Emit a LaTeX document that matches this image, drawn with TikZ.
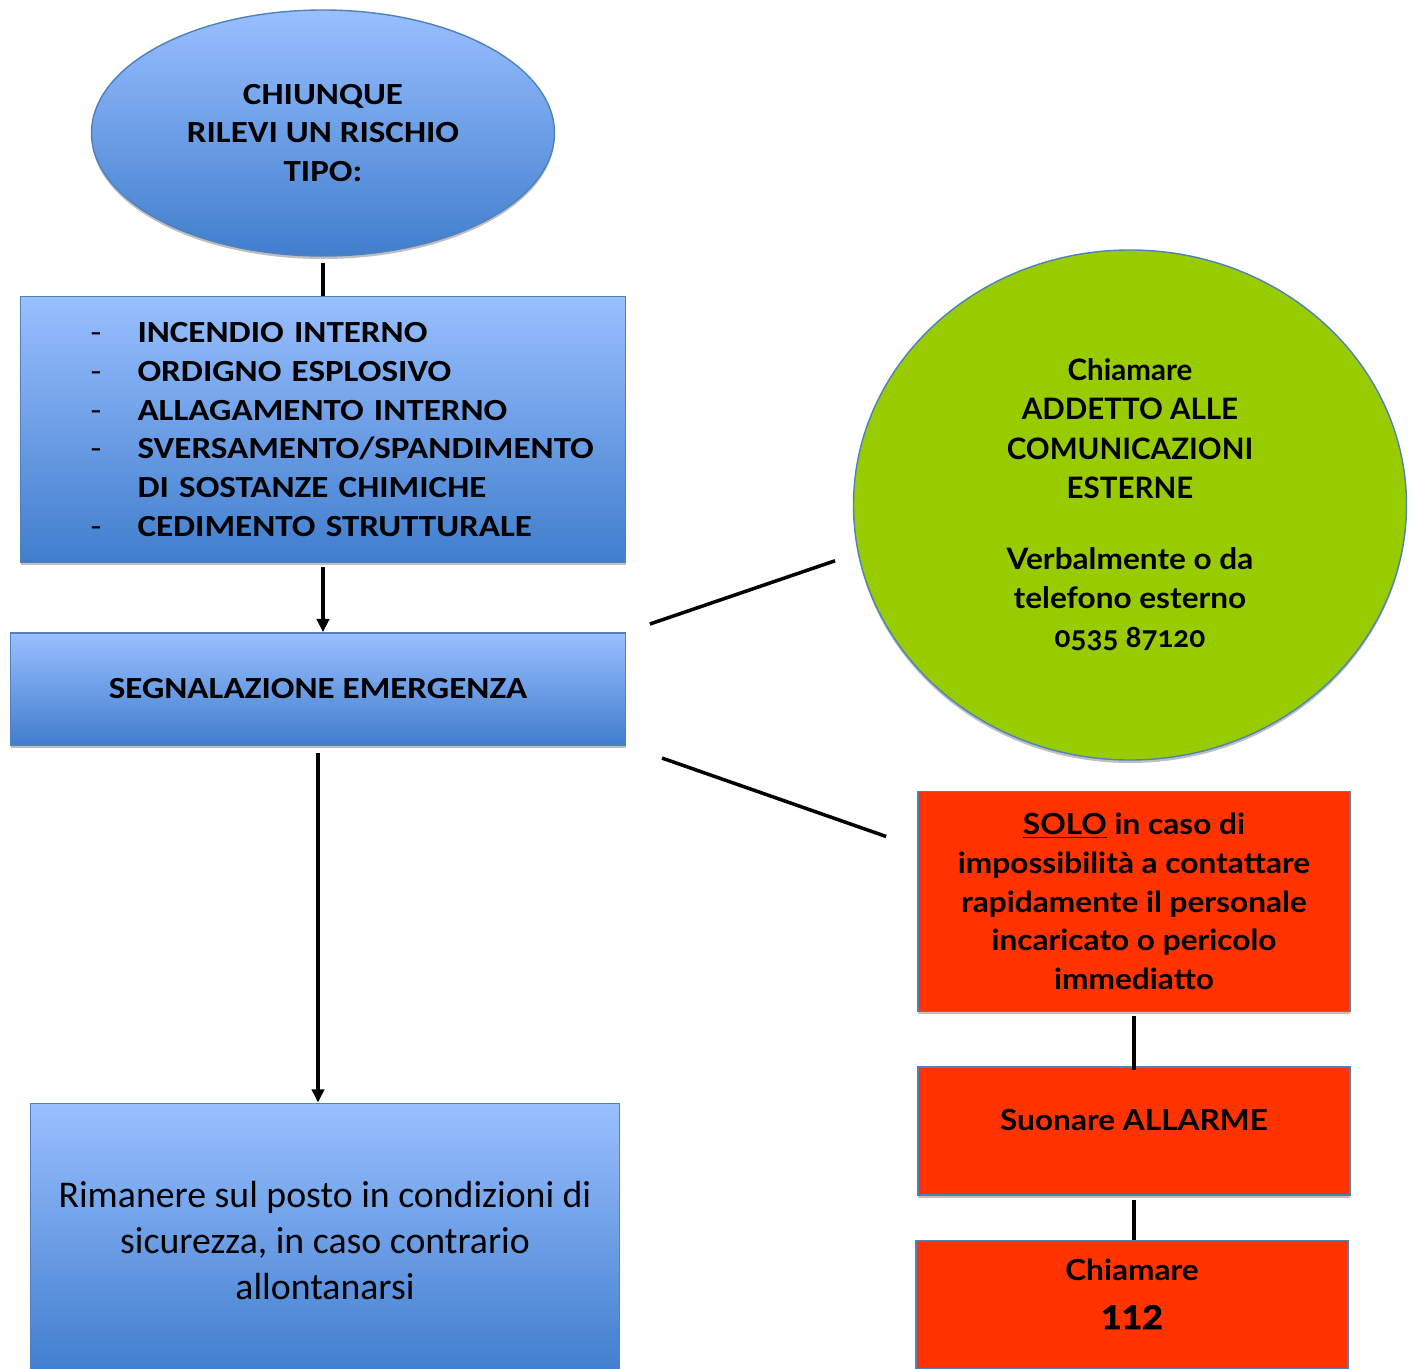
\documentclass[tikz,border=0pt]{standalone}
\usepackage{fontspec}
\setmainfont{Carlito}
\newfontfamily\largo{Carlito}[FakeStretch=1.14]
\newfontfamily\tondo{Lato}
\newfontfamily\tondolargo{Lato}[FakeStretch=1.09]
\usetikzlibrary{shapes.geometric,arrows.meta,positioning,calc,shadows}

\definecolor{bluetop}{RGB}{153,191,255}
\definecolor{bluebottom}{RGB}{64,126,205}
\definecolor{bordoblu}{RGB}{79,129,189}
\definecolor{verde}{RGB}{153,204,0}
\definecolor{rosso}{RGB}{255,51,0}

\newlength\px
\setlength\px{0.02cm}
\newcommand\voce[1]{\hspace*{70\px}\makebox[47\px][l]{\mdseries -}#1}

\begin{document}
\begin{tikzpicture}[
            x=0.02cm, y=-0.02cm,
            ombra/.style={drop shadow={shadow xshift=0pt, shadow yshift=-3\px,
                          opacity=0.25, fill=black}},
            bluebox/.style={rectangle, draw=bordoblu, line width=0.8pt,
                        top color=bluetop, bottom color=bluebottom, ombra,
                        inner sep=0pt, align=center,
                        font=\largo\fontsize{17.5}{22}\selectfont\bfseries},
            redbox/.style={rectangle, draw=bordoblu, line width=0.8pt,
                        fill=rosso, ombra, inner sep=0pt, align=center,
                        minimum width=432\px,
                        font=\tondolargo\fontsize{16.5}{22}\selectfont\bfseries},
            link/.style={line width=2pt, black},
            arrow/.style={link, -{Triangle[length=7.5pt, width=7pt]}}
        ]
            \useasboundingbox (0,0) rectangle (1414,1369);

            % colonna sinistra
            \node[ellipse, draw=bordoblu, line width=0.8pt, top color=bluetop,
                  bottom color=bluebottom, ombra, inner sep=0pt, align=center,
                  minimum width=463\px, minimum height=246\px,
                  font=\largo\fontsize{17.5}{22}\selectfont\bfseries]
                  (chiunque) at (323,133) {CHIUNQUE\\ RILEVI UN RISCHIO\\ TIPO:};
            \node[bluebox, align=left, text width=605\px, minimum height=266\px,
                  below=39\px of chiunque] (rischi)
                  {\voce{INCENDIO INTERNO}\\
                   \voce{ORDIGNO ESPLOSIVO}\\
                   \voce{ALLAGAMENTO INTERNO}\\
                   \voce{SVERSAMENTO/SPANDIMENTO}\\
                   \hspace*{117\px}DI SOSTANZE CHIMICHE\\
                   \voce{CEDIMENTO STRUTTURALE}};
            \node[bluebox, minimum width=615\px, minimum height=112\px,
                  below=69\px of rischi, xshift=-5\px] (segn) {SEGNALAZIONE EMERGENZA};
            \node[bluebox, minimum width=589\px, minimum height=270\px,
                  below=357\px of segn, xshift=7\px,
                  font=\fontsize{21.5}{26}\selectfont] (rimanere)
                  {Rimanere sul posto in condizioni di\\ sicurezza, in caso contrario\\ allontanarsi\\[-50\px]};

            % colonna destra
            \node[ellipse, draw=bordoblu, line width=0.8pt, fill=verde, ombra,
                  inner sep=0pt, align=center,
                  minimum width=553\px, minimum height=510\px,
                  font=\tondo\fontsize{16.8}{22.3}\selectfont\bfseries]
                  (addetto) at (1130,505)
                  {Chiamare\\ ADDETTO ALLE\\ COMUNICAZIONI\\ ESTERNE\\[32\px]
                   {\addfontfeature{FakeStretch=1.07}Verbalmente o da}\\
                   {\addfontfeature{FakeStretch=1.07}telefono esterno}\\
                   {\addfontfeature{Numbers=OldStyle}0535 87120}};
            \node[redbox, minimum height=220\px, below=30\px of addetto, xshift=4\px] (solo)
                  {\underline{SOLO} in caso di\\ impossibilità a contattare\\
                   rapidamente il personale\\ incaricato o pericolo\\ immediatto};
            \node[redbox, minimum height=128\px, below=54\px of solo] (allarme)
                  {Suonare ALLARME\\[-16\px]};
            \node[redbox, minimum height=128\px, below=44\px of allarme, xshift=-2\px] (chiama)
                  {Chiamare\\[10\px] {\addfontfeature{FakeBold=2.5}\fontsize{18.5}{22}\selectfont 112}\\[-18\px]};

            % collegamenti
            \draw[link, shorten <=6\px] (chiunque) -- (rischi);
            \draw[arrow, shorten <=4\px] (rischi.south) -- (rischi.south |- segn.north);
            \draw[arrow, shorten <=7\px] (segn.south) -- (segn.south |- rimanere.north);
            \draw[link, shorten <=25\px, shorten >=24\px] (segn.north east) -- (addetto.190);
            \draw[link, shorten <=38\px, shorten >=33\px] (segn.south east) -- (solo.166);
            \draw[link, shorten <=4\px, shorten >=-4\px] (solo) -- (allarme);
            \draw[link, shorten <=4\px] (allarme.south) -- (allarme.south |- chiama.north);
        \end{tikzpicture}
\end{document}
